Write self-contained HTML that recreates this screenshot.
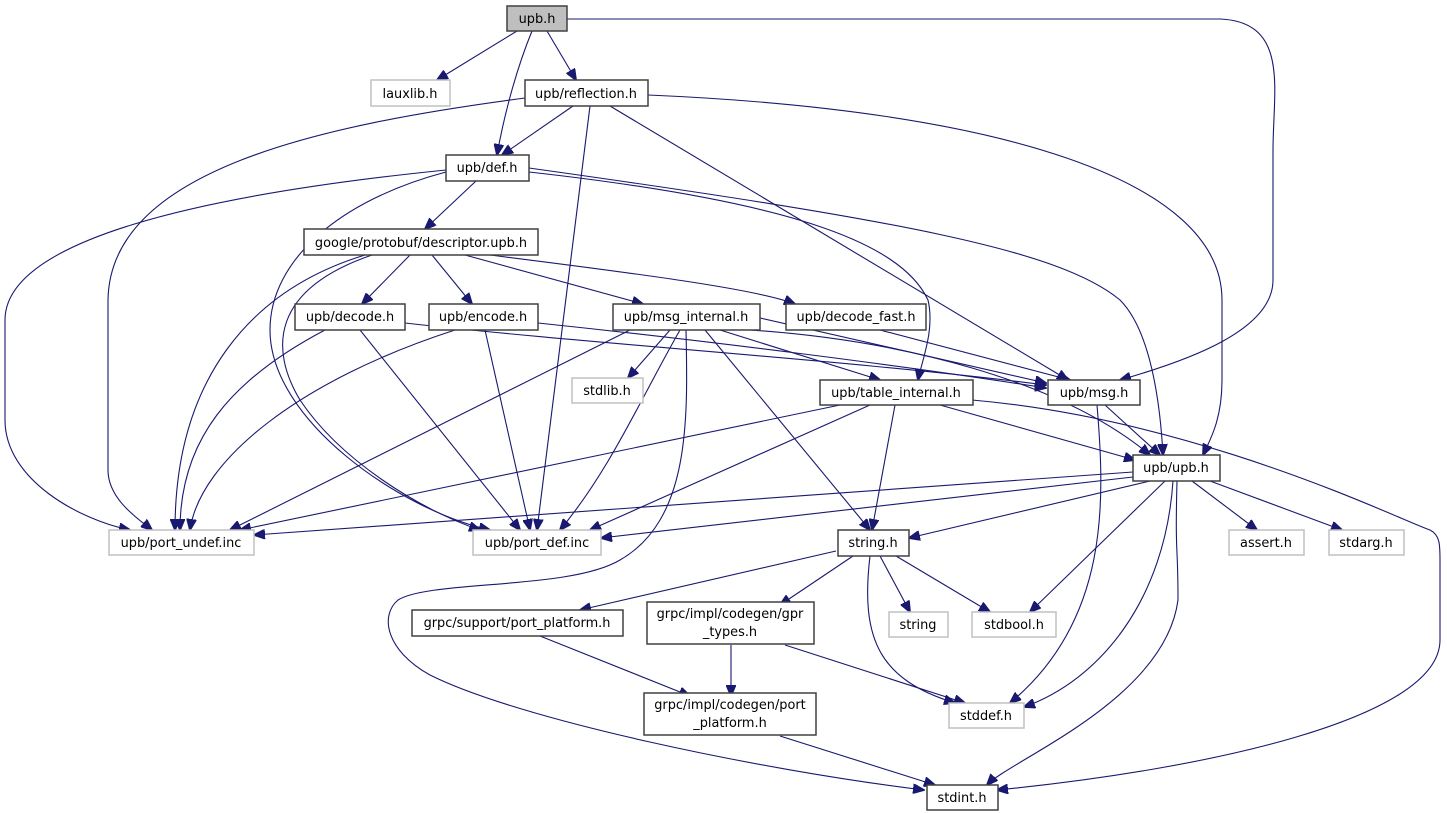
<!DOCTYPE html>
<html><head><meta charset="utf-8"><style>
html,body{margin:0;padding:0;background:#fff;}
svg{display:block;}
text{font-family:"DejaVu Sans","Liberation Sans",sans-serif;font-size:12.9px;fill:#000;}
.n{fill:#fff;stroke:#404040;stroke-width:1.5;}
.g{fill:#fff;stroke:#c0c0c0;stroke-width:1.5;}
.e{fill:none;stroke:#191970;stroke-width:1.1;marker-end:url(#a);}
</style></head><body>
<svg width="1447" height="813" viewBox="0 0 1447 813">
<defs><marker id="a" markerWidth="12" markerHeight="10" refX="11" refY="5" orient="auto" markerUnits="userSpaceOnUse"><path d="M0,0 L12,5 L0,10 z" fill="#191970" stroke="#191970"/></marker></defs>
<g>
<path class="e" d="M517,31 L437,80"/>
<path class="e" d="M547,31 L576,80"/>
<path class="e" d="M532,31 C518,65 505,110 497,155"/>
<path class="e" d="M567,19 L1220,19 C1290,22 1273,90 1273,150 L1273,280 C1273,330 1190,360 1120,380"/>
<path class="e" d="M573,106 L502,155"/>
<path class="e" d="M525,98 C320,125 110,170 108,300 L108,470 C108,500 140,520 152,530"/>
<path class="e" d="M590,106 L537,530"/>
<path class="e" d="M610,106 L1068,380"/>
<path class="e" d="M648,95 C1000,110 1222,180 1222,300 L1222,380 C1222,420 1210,440 1203,455"/>
<path class="e" d="M476,181 L425,229"/>
<path class="e" d="M446,170 C200,195 5,240 5,320 L5,420 C5,480 80,520 130,530"/>
<path class="e" d="M446,172 C340,200 270,260 270,330 C270,420 400,510 490,530"/>
<path class="e" d="M529,172 C780,200 900,240 928,300 C935,330 922,360 918,380"/>
<path class="e" d="M529,168 C900,220 1060,250 1120,300 C1150,330 1160,400 1163,455"/>
<path class="e" d="M365,255 C250,290 175,380 175,530"/>
<path class="e" d="M372,255 C270,290 270,350 300,400 C340,460 420,510 480,530"/>
<path class="e" d="M410,255 L362,304"/>
<path class="e" d="M432,255 L472,304"/>
<path class="e" d="M465,255 L643,304"/>
<path class="e" d="M490,255 C650,275 760,290 795,304"/>
<path class="e" d="M325,330 C230,380 180,440 180,530"/>
<path class="e" d="M360,330 L520,530"/>
<path class="e" d="M405,323 C600,345 850,360 1046,385"/>
<path class="e" d="M455,330 C300,380 200,460 190,530"/>
<path class="e" d="M485,330 L530,530"/>
<path class="e" d="M538,323 C700,340 900,365 1046,388"/>
<path class="e" d="M630,330 L230,530"/>
<path class="e" d="M670,330 L628,378"/>
<path class="e" d="M680,330 C640,400 610,470 560,530"/>
<path class="e" d="M686,330 C688,420 690,520 620,560 C570,590 430,580 398,600 C380,615 385,650 430,675 C520,720 760,770 924,790"/>
<path class="e" d="M705,330 L870,530"/>
<path class="e" d="M720,330 L880,380"/>
<path class="e" d="M760,318 L1046,383"/>
<path class="e" d="M750,330 C900,340 1060,380 1150,455"/>
<path class="e" d="M880,330 L1070,380"/>
<path class="e" d="M840,405 L240,530"/>
<path class="e" d="M870,405 L590,530"/>
<path class="e" d="M895,405 L872,530"/>
<path class="e" d="M940,405 L1135,460"/>
<path class="e" d="M972,400 C1200,420 1400,520 1430,530 C1440,535 1440,545 1440,560 L1440,640 C1440,720 1200,770 997,790"/>
<path class="e" d="M1105,405 L1160,455"/>
<path class="e" d="M1097,405 C1105,500 1110,620 1010,703"/>
<path class="e" d="M1133,472 L254,535"/>
<path class="e" d="M1133,477 L601,538"/>
<path class="e" d="M1150,481 L909,538"/>
<path class="e" d="M1192,481 L1257,530"/>
<path class="e" d="M1210,481 L1342,530"/>
<path class="e" d="M1165,481 L1030,612"/>
<path class="e" d="M1173,481 C1165,600 1100,680 1024,707"/>
<path class="e" d="M1177,481 C1175,560 1178,540 1178,600 C1165,700 1010,760 987,785"/>
<path class="e" d="M836,551 L580,610"/>
<path class="e" d="M853,556 L780,605"/>
<path class="e" d="M880,556 L910,612"/>
<path class="e" d="M896,556 L990,612"/>
<path class="e" d="M870,556 C860,640 880,680 955,703"/>
<path class="e" d="M540,636 L690,696"/>
<path class="e" d="M731,645 L731,696"/>
<path class="e" d="M785,645 L965,703"/>
<path class="e" d="M780,736 L935,785"/>
</g>
<g>
<rect x="507" y="6" width="60" height="25" fill="#bfbfbf" stroke="#404040" stroke-width="1.5"/><text x="537" y="23" text-anchor="middle">upb.h</text>
<rect class="g" x="371" y="80" width="79" height="26"/><text x="410" y="98" text-anchor="middle">lauxlib.h</text>
<rect class="n" x="525" y="80" width="123" height="26"/><text x="586" y="98" text-anchor="middle">upb/reflection.h</text>
<rect class="n" x="446" y="155" width="83" height="26"/><text x="487" y="172" text-anchor="middle">upb/def.h</text>
<rect class="n" x="304" y="229" width="234" height="26"/><text x="421" y="247" text-anchor="middle">google/protobuf/descriptor.upb.h</text>
<rect class="n" x="295" y="304" width="110" height="26"/><text x="350" y="321" text-anchor="middle">upb/decode.h</text>
<rect class="n" x="429" y="304" width="109" height="26"/><text x="483" y="321" text-anchor="middle">upb/encode.h</text>
<rect class="n" x="613" y="304" width="147" height="26"/><text x="686" y="321" text-anchor="middle">upb/msg_internal.h</text>
<rect class="n" x="786" y="304" width="140" height="26"/><text x="856" y="321" text-anchor="middle">upb/decode_fast.h</text>
<rect class="g" x="572" y="378" width="71" height="25"/><text x="607" y="395" text-anchor="middle">stdlib.h</text>
<rect class="n" x="820" y="380" width="153" height="25"/><text x="896" y="397" text-anchor="middle">upb/table_internal.h</text>
<rect class="n" x="1048" y="380" width="92" height="25"/><text x="1094" y="397" text-anchor="middle">upb/msg.h</text>
<rect class="n" x="1133" y="455" width="87" height="26"/><text x="1176" y="472" text-anchor="middle">upb/upb.h</text>
<rect class="g" x="109" y="530" width="145" height="25"/><text x="181" y="547" text-anchor="middle">upb/port_undef.inc</text>
<rect class="g" x="473" y="530" width="128" height="25"/><text x="537" y="547" text-anchor="middle">upb/port_def.inc</text>
<rect class="n" x="838" y="530" width="71" height="26"/><text x="873" y="547" text-anchor="middle">string.h</text>
<rect class="g" x="1229" y="530" width="75" height="25"/><text x="1266" y="547" text-anchor="middle">assert.h</text>
<rect class="g" x="1329" y="530" width="75" height="25"/><text x="1366" y="547" text-anchor="middle">stdarg.h</text>
<rect class="n" x="412" y="610" width="211" height="26"/><text x="517" y="627" text-anchor="middle">grpc/support/port_platform.h</text>
<rect class="n" x="647" y="602" width="167" height="42"/><text x="730" y="618" text-anchor="middle">grpc/impl/codegen/gpr</text><text x="730" y="636" text-anchor="middle">_types.h</text>
<rect class="g" x="889" y="612" width="59" height="25"/><text x="918" y="629" text-anchor="middle">string</text>
<rect class="g" x="972" y="612" width="84" height="25"/><text x="1014" y="629" text-anchor="middle">stdbool.h</text>
<rect class="n" x="644" y="693" width="172" height="42"/><text x="730" y="709" text-anchor="middle">grpc/impl/codegen/port</text><text x="730" y="727" text-anchor="middle">_platform.h</text>
<rect class="g" x="949" y="703" width="75" height="25"/><text x="986" y="720" text-anchor="middle">stddef.h</text>
<rect class="n" x="927" y="785" width="71" height="25"/><text x="962" y="802" text-anchor="middle">stdint.h</text>
</g>
</svg>
</body></html>
